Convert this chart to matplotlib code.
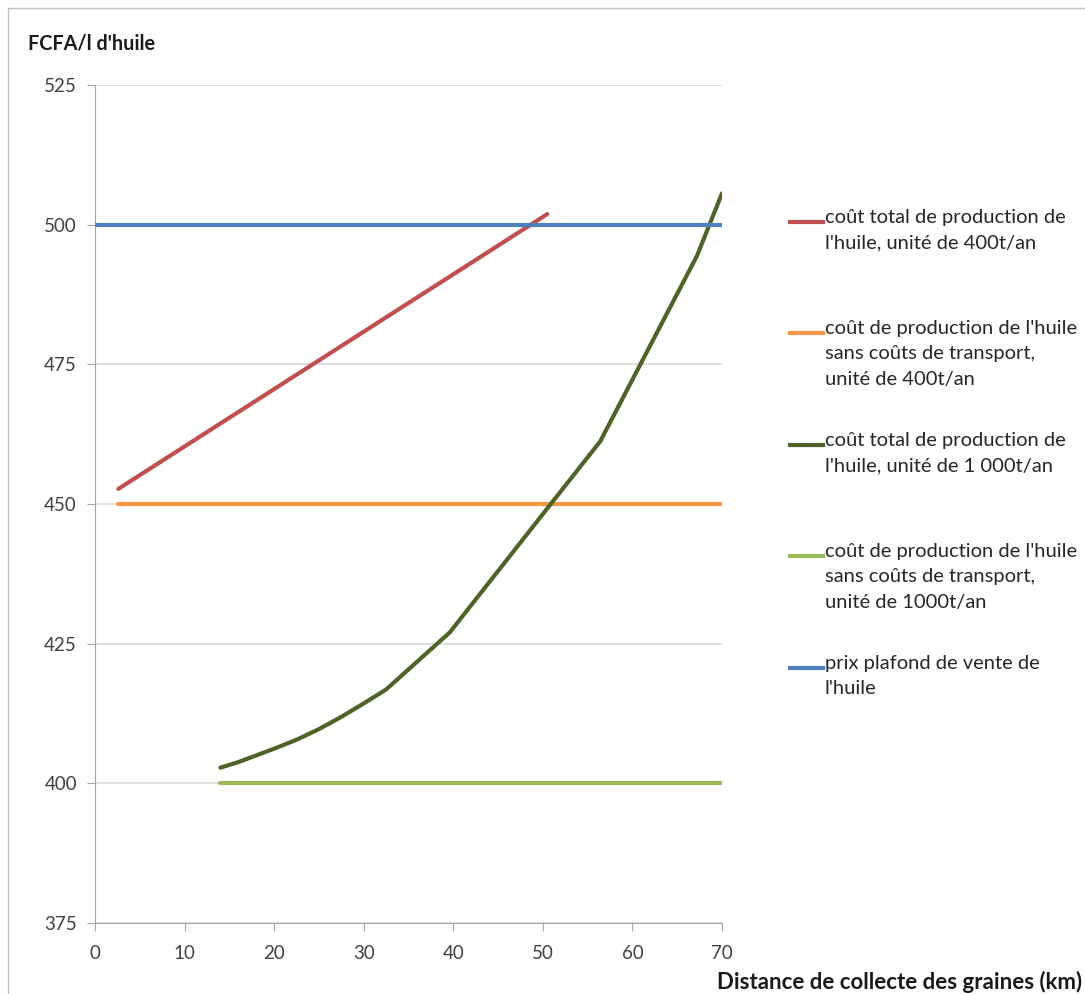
import matplotlib.pyplot as plt
from matplotlib.lines import Line2D
from matplotlib.patches import Rectangle

plt.rcParams['font.family'] = ['Lato', 'DejaVu Sans']

# data
x_red = [2.6, 50.5]
y_red = [452.7, 501.9]

x_orange = [2.6, 70]
y_orange = [450, 450]

x_dkgreen = [14, 16, 18, 20, 22.5, 25, 27.5, 30, 32.5, 39.6, 50, 56.4, 67.2, 70]
y_dkgreen = [402.8, 403.8, 405.0, 406.2, 407.8, 409.7, 411.9, 414.3, 416.8, 427, 448.2, 461.2, 494.4, 505.6]

x_ltgreen = [14, 70]
y_ltgreen = [400, 400]

x_blue = [0, 70]
y_blue = [500, 500]

labels = [
    "coût total de production de\nl'huile, unité de 400t/an",
    "coût de production de l'huile\nsans coûts de transport,\nunité de 400t/an",
    "coût total de production de\nl'huile, unité de 1 000t/an",
    "coût de production de l'huile\nsans coûts de transport,\nunité de 1000t/an",
    "prix plafond de vente de\nl'huile",
]
colors = ['#C0504D', '#F79646', '#4F6228', '#9BBB59', '#4F81BD']
series = [(x_red, y_red), (x_orange, y_orange), (x_dkgreen, y_dkgreen),
          (x_ltgreen, y_ltgreen), (x_blue, y_blue)]

fig = plt.figure(figsize=(10.85, 9.94), dpi=100)
ax = fig.add_axes([95 / 1085, 1 - 923 / 994, 627 / 1085, 838 / 994])

for (xs, ys), c in zip(series, colors):
    ax.plot(xs, ys, color=c, lw=3, solid_capstyle='round', zorder=3)

ax.set_xlim(0, 70)
ax.set_ylim(375, 525)
ax.set_xticks(range(0, 71, 10))
ax.set_yticks(range(375, 526, 25))
ax.yaxis.grid(True, color='#D9D9D9', lw=1.2)
ax.set_axisbelow(True)
for s in ['top', 'right']:
    ax.spines[s].set_visible(False)
for s in ['left', 'bottom']:
    ax.spines[s].set_color('#A6A6A6')
ax.tick_params(axis='both', length=6, color='#A6A6A6', labelsize=13.5, colors='#404040')
ax.tick_params(axis='y', pad=7)
ax.tick_params(axis='x', pad=10)

fig.text(28 / 1085, 1 - 43 / 994, "FCFA/l d'huile", fontsize=14.3, fontweight='bold',
         va='center', ha='left', color='#1a1a1a')
fig.text(1082 / 1085, 1 - 982 / 994, "Distance de collecte des graines (km)", fontsize=16,
         fontweight='bold', va='center', ha='right', color='#1a1a1a')

# legend, handle aligned with first text line
leg_y = [222, 333, 445, 556, 668]
for lab, c, yy in zip(labels, colors, leg_y):
    yf = 1 - yy / 994
    fig.add_artist(Line2D([790 / 1085, 823 / 1085], [yf, yf], color=c, lw=3,
                          transform=fig.transFigure))
    fig.text(825 / 1085, yf + 13 / 994, lab, fontsize=14.5, va='top', ha='left',
             linespacing=1.6, color='#262626')

# outer frame
fig.add_artist(Rectangle((8 / 1085, -0.1), 1.2, 1.1 - 8 / 994, fill=False,
                         edgecolor='#BFBFBF', lw=1, transform=fig.transFigure))

fig.savefig('out.png', dpi=100)
